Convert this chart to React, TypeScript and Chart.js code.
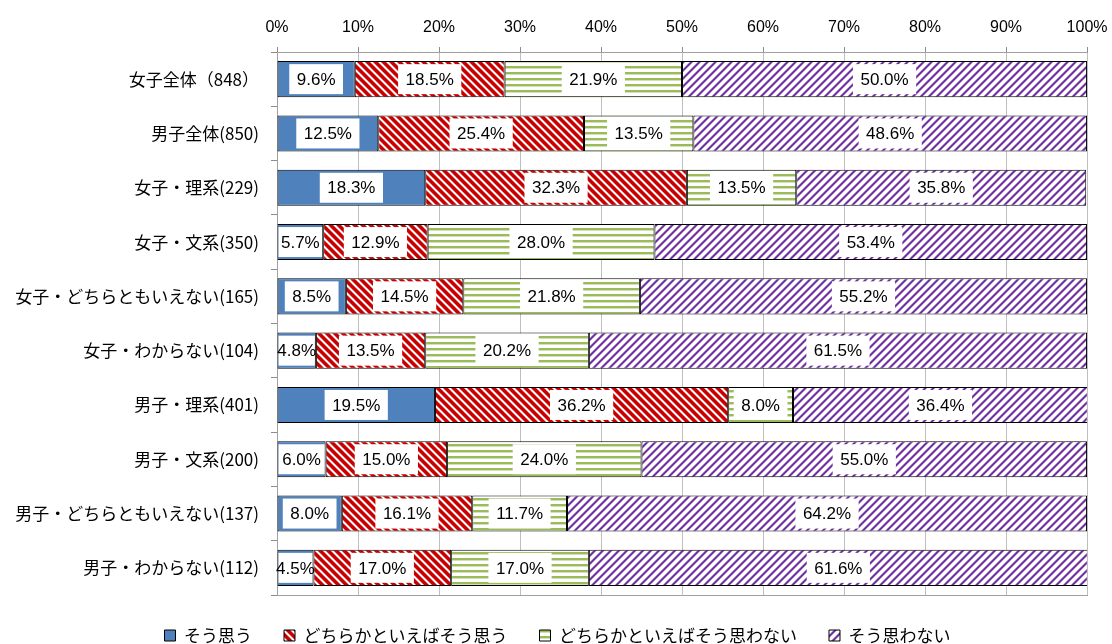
import React, { useEffect, useRef } from 'react';
import { Chart, registerables } from 'chart.js';

Chart.register(...registerables);

const categories = [
  '女子全体（848）',
  '男子全体(850)',
  '女子・理系(229)',
  '女子・文系(350)',
  '女子・どちらともいえない(165)',
  '女子・わからない(104)',
  '男子・理系(401)',
  '男子・文系(200)',
  '男子・どちらともいえない(137)',
  '男子・わからない(112)',
];
const seriesNames = ['そう思う', 'どちらかといえばそう思う', 'どちらかといえばそう思わない', 'そう思わない'];
const agree = [9.6, 12.5, 18.3, 5.7, 8.5, 4.8, 19.5, 6.0, 8.0, 4.5];
const somewhatAgree = [18.5, 25.4, 32.3, 12.9, 14.5, 13.5, 36.2, 15.0, 16.1, 17.0];
const somewhatDisagree = [21.9, 13.5, 13.5, 28.0, 21.8, 20.2, 8.0, 24.0, 11.7, 17.0];
const disagree = [50.0, 48.6, 35.8, 53.4, 55.2, 61.5, 36.4, 55.0, 64.2, 61.6];
const axisMin = 0;
const axisMax = 100;
const axisStep = 10;

function makePattern(kind: string): CanvasPattern | string {
  const size = kind === 'green' ? 6 : 8;
  const c = document.createElement('canvas');
  c.width = size;
  c.height = size;
  const g = c.getContext('2d');
  if (!g) return '#fff';
  const img = g.createImageData(size, size);
  const set = (x: number, y: number, r: number, gg: number, b: number) => {
    const i = (y * size + x) * 4;
    img.data[i] = r; img.data[i + 1] = gg; img.data[i + 2] = b; img.data[i + 3] = 255;
  };
  for (let y = 0; y < size; y++) {
    for (let x = 0; x < size; x++) {
      set(x, y, 255, 255, 255);
      if (kind === 'red') {
        const m = (((x - y) % 8) + 8) % 8;
        if (m < 4) set(x, y, 200, 0, 0);
        else if (m === 4 || m === 7) set(x, y, 228, 120, 120);
      } else if (kind === 'purple') {
        const m = (x + y) % 8;
        if (m < 2) set(x, y, 112, 48, 160);
        else if (m === 2 || m === 7) set(x, y, 184, 150, 210);
      } else if (kind === 'green') {
        if (y === 0 || y === 1) set(x, y, 155, 187, 89);
        else if (y === 2) set(x, y, 210, 225, 185);
      }
    }
  }
  g.putImageData(img, 0, 0);
  return g.createPattern(c, 'repeat') || '#fff';
}

const boxLabels = {
  id: 'boxLabels',
  afterDatasetsDraw(chart: any) {
    const ctx = chart.ctx;
    ctx.save();
    ctx.font = '17px "Liberation Sans"';
    ctx.textAlign = 'center';
    ctx.textBaseline = 'middle';
    chart.data.datasets.forEach((ds: any, di: number) => {
      const meta = chart.getDatasetMeta(di);
      meta.data.forEach((el: any, i: number) => {
        const v = ds.data[i];
        const text = v.toFixed(1) + '%';
        const p = el.getProps(['x', 'base', 'y'], true);
        const l = Math.min(p.x, p.base);
        const r = Math.max(p.x, p.base);
        const cx = (l + r) / 2;
        const tw = ctx.measureText(text).width;
        let bl = cx - tw / 2 - 7.5;
        let br = cx + tw / 2 + 7.5;
        bl = Math.max(bl, l + 1);
        br = Math.min(br, r - 1);
        ctx.fillStyle = '#ffffff';
        ctx.fillRect(bl, p.y - 15, br - bl, 30);
        ctx.fillStyle = '#000000';
        ctx.fillText(text, cx, p.y + 1);
      });
    });
    ctx.restore();
  },
};

const PAD_LEFT = 3;

export default function App() {
  const ref = useRef<HTMLCanvasElement>(null);
  useEffect(() => {
    if (!ref.current) return;
    const fills = [
      '#4F81BD',
      makePattern('red'),
      makePattern('green'),
      makePattern('purple'),
    ];
    const values = [agree, somewhatAgree, somewhatDisagree, disagree];
    const chart = new Chart(ref.current, {
      type: 'bar',
      data: {
        labels: categories,
        datasets: seriesNames.map((name, k) => ({
          label: name,
          data: values[k],
          backgroundColor: fills[k] as any,
          borderColor: '#000000',
          borderWidth: 1,
          borderSkipped: false,
          categoryPercentage: 1,
          barPercentage: 0.665,
          xAxisID: 'x',
        })),
      },
      options: {
        indexAxis: 'y',
        animation: false,
        responsive: true,
        maintainAspectRatio: false,
        events: [],
        layout: { padding: { left: PAD_LEFT, right: 0, top: 0, bottom: -10 } },
        plugins: {
          tooltip: { enabled: false },
          legend: {
            position: 'bottom',
            labels: {
              color: '#000',
              font: { family: '"Noto Sans CJK JP"', size: 17 },
              boxWidth: 11,
              boxHeight: 11,
              padding: 32,
            },
          },
        },
        scales: {
          x: {
            type: 'linear',
            position: 'top',
            stacked: true,
            min: axisMin,
            max: axisMax,
            ticks: {
              stepSize: axisStep,
              color: '#000',
              font: { family: '"Liberation Sans"', size: 16, lineHeight: '29px' },
              padding: 4.5,
              callback: (v: any) => v + '%',
            },
            grid: { color: '#BFBFBF', tickColor: '#8C8C8C', tickLength: 5 },
            border: { color: '#A0A0A0', width: 1 },
            afterFit: (s: any) => { s.height = 52; },
          },
          x2: {
            type: 'linear',
            position: 'bottom',
            min: axisMin,
            max: axisMax,
            ticks: { display: false },
            grid: { display: false },
            border: { display: true, color: '#A0A0A0', width: 1 },
            afterFit: (s: any) => { s.height = 0; },
          },
          y: {
            type: 'category',
            stacked: true,
            ticks: {
              color: '#000',
              font: { family: '"Noto Sans CJK JP"', size: 17 },
              padding: 12,
              autoSkip: false,
            },
            grid: { drawOnChartArea: false, color: '#8C8C8C', tickLength: 6, offset: true },
            border: { color: '#A0A0A0', width: 1 },
            afterFit: (s: any) => { s.width = 277 - PAD_LEFT; },
          },
        },
      } as any,
      plugins: [boxLabels],
    });
    return () => chart.destroy();
  }, []);
  return (
    <div style={{ position: 'absolute', left: 0, top: 0, width: 1112, height: 644, background: '#fff' }}>
      <canvas ref={ref} />
    </div>
  );
}
